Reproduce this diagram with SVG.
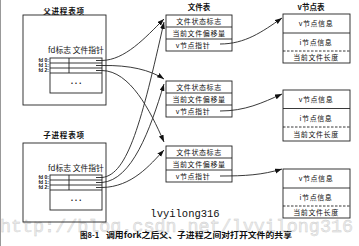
<svg xmlns="http://www.w3.org/2000/svg" width="359" height="246" viewBox="0 0 359 246">
<style>
.ln{fill:none;stroke:#222;stroke-width:0.9}
.ds{fill:none;stroke:#222;stroke-width:0.9;stroke-dasharray:2.5 1.5}
.t{font-family:"Noto Sans CJK SC","Liberation Sans",sans-serif;font-size:7px;fill:#111;text-anchor:middle;letter-spacing:0.6px}
.h{font-family:"Noto Sans CJK SC","Liberation Sans",sans-serif;font-size:7.5px;fill:#111;text-anchor:middle;font-weight:bold}
.fd{font-family:"Liberation Sans","Noto Sans CJK SC",sans-serif;font-size:5px;fill:#111;text-anchor:end;font-weight:bold}
.c{fill:none;stroke:#222;stroke-width:0.9;marker-end:url(#ah)}
</style>
<defs>
<marker id="ah" markerUnits="userSpaceOnUse" markerWidth="8" markerHeight="6" refX="7" refY="2.5" orient="auto">
<path d="M0,0 L7,2.5 L0,5 z" fill="#111"/>
</marker>
</defs>
<rect width="359" height="246" fill="#fff"/>
<line x1="0.5" y1="0" x2="0.5" y2="246" stroke="#999" stroke-width="1"/>
<text x="0" y="232" font-family="Liberation Mono,monospace" font-size="18.4" fill="#ececec" stroke="#cccccc" stroke-width="0.4" textLength="353" lengthAdjust="spacingAndGlyphs">http://blog.csdn.net/lvyilong316</text>

<g id="parent">
<text class="h" x="64" y="13.5" style="letter-spacing:0.8px">父进程表项</text>
<rect class="ln" x="23" y="15" width="83" height="90"/>
<text class="h" x="76" y="53" style="font-weight:normal;font-size:7.8px">fd标志 文件指针</text>
<rect class="ln" x="50" y="58" width="52" height="35"/>
<path class="ln" d="M50,63H102M50,68H102M50,73H102M69,58V73"/>
<text class="fd" x="49" y="62.3">fd 0:</text>
<text class="fd" x="49" y="67.3">fd 1:</text>
<text class="fd" x="49" y="72.3">fd 2:</text>
<text class="h" x="76" y="84">. . .</text>
</g>

<g id="child">
<text class="h" x="64" y="138" style="letter-spacing:0.8px">子进程表项</text>
<rect class="ln" x="23" y="143" width="83" height="79"/>
<text class="h" x="76" y="171" style="font-weight:normal;font-size:7.8px">fd标志 文件指针</text>
<rect class="ln" x="50" y="175" width="52" height="35"/>
<path class="ln" d="M50,180H102M50,185H102M50,190H102M69,175V190"/>
<text class="fd" x="49" y="179.3">fd 0:</text>
<text class="fd" x="49" y="184.3">fd 1:</text>
<text class="fd" x="49" y="189.3">fd 2:</text>
<text class="h" x="76" y="201">. . .</text>
</g>

<g id="filetable">
<text class="h" x="199" y="10">文件表</text>
<g id="ft1">
<rect class="ln" x="166" y="15" width="66" height="36"/>
<path class="ln" d="M166,27H232M166,39H232"/>
<text class="t" x="199" y="24">文件状态标志</text>
<text class="t" x="199" y="36">当前文件偏移量</text>
<text class="t" x="193" y="48">v节点指针</text>
</g>
<g id="ft2">
<rect class="ln" x="166" y="81" width="66" height="36"/>
<path class="ln" d="M166,93H232M166,105H232"/>
<text class="t" x="199" y="90">文件状态标志</text>
<text class="t" x="199" y="102">当前文件偏移量</text>
<text class="t" x="193" y="114">v节点指针</text>
</g>
<g id="ft3">
<rect class="ln" x="166" y="146" width="66" height="36"/>
<path class="ln" d="M166,158H232M166,170H232"/>
<text class="t" x="199" y="155">文件状态标志</text>
<text class="t" x="199" y="167">当前文件偏移量</text>
<text class="t" x="193" y="179">v节点指针</text>
</g>
</g>

<g id="vnodetable">
<text class="h" x="311" y="10">v节点表</text>
<g id="vn1">
<rect class="ln" x="283" y="14" width="67" height="49"/>
<path class="ln" d="M283,33H350"/>
<path class="ds" d="M283,51H350"/>
<text class="t" x="316" y="26">v节点信息</text>
<text class="t" x="316" y="45">i节点信息</text>
<text class="t" x="316" y="60">当前文件长度</text>
</g>
<g id="vn2">
<rect class="ln" x="283" y="90" width="67" height="51"/>
<path class="ln" d="M283,108.5H350"/>
<path class="ds" d="M283,127H350"/>
<text class="t" x="316" y="102">v节点信息</text>
<text class="t" x="316" y="121">i节点信息</text>
<text class="t" x="316" y="137">当前文件长度</text>
</g>
<g id="vn3">
<rect class="ln" x="283" y="169" width="67" height="49"/>
<path class="ln" d="M283,188H350"/>
<path class="ds" d="M283,206H350"/>
<text class="t" x="316" y="181">v节点信息</text>
<text class="t" x="316" y="200">i节点信息</text>
<text class="t" x="316" y="215">当前文件长度</text>
</g>
</g>

<g id="connectors">
<path class="c" d="M96,60.5 L102,60.5 C125,60 145,38 164,19"/>
<path class="c" d="M96,65.5 L102,65.5 C130,65 150,70 164,79"/>
<path class="c" d="M96,70.5 L102,70.5 C130,71 150,110 164,142"/>
<path class="c" d="M96,177.5 L102,177.5 C128,175 142,120 164,22"/>
<path class="c" d="M96,182.5 L102,182.5 C132,180 150,130 164,84"/>
<path class="c" d="M96,187.5 L102,187.5 C132,187 150,165 164,150"/>
<path class="c" d="M220,44 C245,44 262,32 282,18"/>
<path class="c" d="M220,111 C245,111 262,103 282,94"/>
<path class="c" d="M220,176 C245,176 262,175 282,169"/>
</g>

<text x="185" y="217" font-family="Liberation Mono,monospace" font-size="10.5" fill="#111" text-anchor="middle">lvyilong316</text>
<text x="80" y="238" font-family="Noto Sans CJK SC,Liberation Sans,sans-serif" font-size="7.5" font-weight="bold" fill="#111">图8-1</text>
<text x="106" y="238" font-family="Noto Sans CJK SC,Liberation Sans,sans-serif" font-size="8" font-weight="bold" fill="#111" textLength="186" lengthAdjust="spacingAndGlyphs">调用fork之后父、子进程之间对打开文件的共享</text>
</svg>
